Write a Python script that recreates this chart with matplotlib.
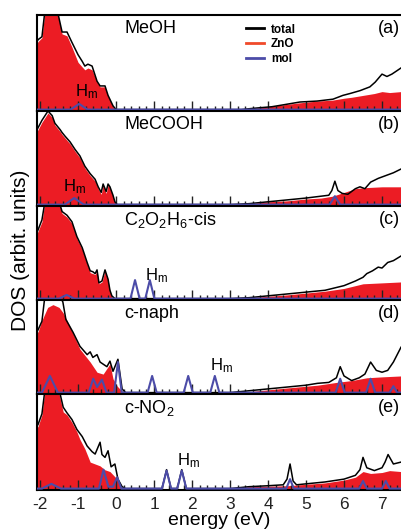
import matplotlib
matplotlib.use("Agg")
import matplotlib.pyplot as plt
from matplotlib.ticker import MultipleLocator

plt.rcParams["font.family"] = ["Liberation Sans", "DejaVu Sans"]
plt.rcParams["mathtext.default"] = "regular"
plt.rcParams["axes.unicode_minus"] = False

RED = "#ec1c24"
BLUE = "#4c4ca8"

# ---- panel (a) MeOH
meoh_e = [-2.08, -2.05, -1.95, -1.87, -1.8, -1.61, -1.53, -1.42, -1.29, -1.16, -1.0, -0.89,
          -0.82, -0.74, -0.63, -0.5, -0.42, -0.29, -0.21, -0.08, 0.0,
          3.0, 3.3, 3.53, 3.8, 4.1, 4.4, 4.84, 5.29, 5.71, 5.97, 6.16, 6.42, 6.68, 6.82,
          7.0, 7.13, 7.26, 7.39, 7.5]
meoh_total = [0.72, 0.74, 0.77, 1.05, 1.1, 1.1, 1.02, 0.82, 0.82, 0.71, 0.58, 0.51,
              0.46, 0.48, 0.46, 0.30, 0.25, 0.25, 0.15, 0.04, 0.0,
              0.0, 0.0, 0.01, 0.02, 0.03, 0.05, 0.08, 0.09, 0.11, 0.15, 0.17, 0.20, 0.24, 0.29,
              0.375, 0.35, 0.375, 0.41, 0.44]
meoh_zno_e = [-2.08, -2.05, -1.95, -1.87, -1.8, -1.61, -1.53, -1.42, -1.29, -1.16, -1.0, -0.89,
              -0.82, -0.74, -0.63, -0.5, -0.42, -0.29, -0.21, -0.08, 0.0,
              3.0, 3.53, 4.0, 4.4, 4.8, 5.3, 5.7, 6.0, 6.2, 6.5, 6.8, 7.0, 7.2, 7.5]
meoh_zno = [0.70, 0.72, 0.76, 1.05, 1.1, 1.1, 1.0, 0.80, 0.78, 0.66, 0.50, 0.45,
            0.42, 0.44, 0.42, 0.29, 0.24, 0.24, 0.14, 0.03, 0.0,
            0.0, 0.01, 0.03, 0.05, 0.07, 0.09, 0.10, 0.12, 0.13, 0.15, 0.17, 0.19, 0.18, 0.19]
meoh_mol_e = [-2.08, -1.2, -0.97, -0.75, 7.5]
meoh_mol = [0.0, 0.0, 0.06, 0.0, 0.0]

# ---- panel (b) MeCOOH
mecooh_e = [-2.08, -1.95, -1.79, -1.68, -1.61, -1.47, -1.42, -1.34, -1.21, -1.08, -0.95, -0.82,
            -0.68, -0.55, -0.47, -0.39, -0.34, -0.26, -0.21, -0.16, -0.08, -0.03, 0.03,
            3.0, 3.5, 4.0, 4.5, 5.0, 5.4, 5.6, 5.68, 5.76, 5.84, 5.95, 6.1, 6.3, 6.42, 6.55,
            6.7, 6.9, 7.1, 7.3, 7.5]
mecooh_total = [0.80, 0.90, 1.0, 0.95, 0.87, 0.80, 0.77, 0.73, 0.67, 0.59, 0.52, 0.41,
                0.33, 0.27, 0.19, 0.13, 0.22, 0.14, 0.22, 0.19, 0.10, 0.03, 0.0,
                0.0, 0.01, 0.03, 0.05, 0.07, 0.09, 0.10, 0.15, 0.25, 0.15, 0.12, 0.11, 0.17, 0.19, 0.17,
                0.24, 0.28, 0.31, 0.34, 0.38]
mecooh_zno_e = [-2.08, -1.95, -1.79, -1.68, -1.61, -1.47, -1.42, -1.34, -1.21, -1.08, -0.95, -0.82,
                -0.68, -0.55, -0.47, -0.39, -0.34, -0.26, -0.21, -0.16, -0.08, -0.03, 0.03,
                3.0, 3.5, 4.0, 4.5, 5.0, 5.4, 5.7, 6.0, 6.3, 6.5, 7.0, 7.5]
mecooh_zno = [0.78, 0.88, 0.98, 0.93, 0.85, 0.78, 0.75, 0.71, 0.65, 0.57, 0.50, 0.39,
              0.31, 0.25, 0.17, 0.11, 0.21, 0.12, 0.21, 0.18, 0.09, 0.02, 0.0,
              0.0, 0.01, 0.03, 0.04, 0.06, 0.07, 0.09, 0.13, 0.17, 0.18, 0.19, 0.19]
mecooh_mol_e = [-2.08, -1.35, -1.1, -0.85, 5.62, 5.76, 5.9, 7.5]
mecooh_mol = [0.0, 0.0, 0.07, 0.0, 0.0, 0.09, 0.0, 0.0]

# ---- panel (c) C2O2H6-cis
cis_e = [-2.08, -2.05, -1.95, -1.87, -1.8, -1.6, -1.5, -1.42, -1.29, -1.16, -1.03, -0.89,
         -0.76, -0.68, -0.61, -0.55, -0.5, -0.45, -0.37, -0.29, -0.21, -0.16, -0.11, -0.03,
         3.0, 3.5, 4.0, 4.5, 5.0, 5.5, 5.7, 6.0, 6.3, 6.5, 6.6, 6.75, 6.9, 7.0, 7.15, 7.3, 7.5]
cis_total = [0.72, 0.745, 0.85, 1.05, 1.1, 1.1, 1.05, 0.94, 0.90, 0.83, 0.67, 0.55,
             0.39, 0.30, 0.29, 0.27, 0.31, 0.17, 0.19, 0.31, 0.21, 0.09, 0.03, 0.0,
             0.0, 0.01, 0.03, 0.05, 0.07, 0.09, 0.11, 0.14, 0.19, 0.23, 0.27, 0.30, 0.34, 0.33, 0.39, 0.41, 0.46]
cis_zno_e = [-2.08, -2.05, -1.95, -1.87, -1.8, -1.6, -1.5, -1.42, -1.29, -1.16, -1.03, -0.89,
             -0.76, -0.68, -0.61, -0.55, -0.5, -0.45, -0.37, -0.29, -0.21, -0.16, -0.11, -0.03,
             3.0, 3.5, 4.5, 5.5, 6.0, 6.5, 7.0, 7.5]
cis_zno = [0.70, 0.73, 0.83, 1.05, 1.1, 1.1, 1.03, 0.92, 0.88, 0.81, 0.65, 0.53,
           0.37, 0.28, 0.27, 0.26, 0.30, 0.16, 0.18, 0.30, 0.20, 0.08, 0.02, 0.0,
           0.0, 0.01, 0.04, 0.08, 0.11, 0.16, 0.17, 0.18]
cis_mol_e = [-2.08, -1.5, -1.3, -1.1, 0.38, 0.5, 0.62, 0.77, 0.89, 1.01, 7.5]
cis_mol = [0.0, 0.0, 0.04, 0.0, 0.0, 0.20, 0.0, 0.0, 0.20, 0.0, 0.0]

# ---- panel (d) c-naph
naph_e = [-2.08, -2.05, -1.95, -1.87, -1.8, -1.6, -1.5, -1.4, -1.32, -1.13, -0.95, -0.76,
          -0.68, -0.61, -0.5, -0.42, -0.24, -0.16, -0.08, 0.05, 0.16, 0.25,
          3.0, 3.5, 4.0, 4.5, 5.0, 5.3, 5.6, 5.8, 5.9, 6.0, 6.2, 6.4, 6.55, 6.7, 6.85, 7.0,
          7.15, 7.3, 7.5]
naph_total = [0.66, 0.68, 0.77, 1.05, 1.1, 1.1, 1.05, 0.98, 0.79, 0.65, 0.50, 0.41,
              0.44, 0.38, 0.41, 0.33, 0.28, 0.34, 0.23, 0.36, 0.04, 0.0,
              0.0, 0.02, 0.04, 0.06, 0.08, 0.10, 0.11, 0.16, 0.28, 0.18, 0.13, 0.16, 0.20, 0.33, 0.24, 0.22,
              0.24, 0.33, 0.49]
naph_zno_e = [-2.08, -2.05, -1.95, -1.8, -1.66, -1.5, -1.39, -1.21, -0.95, -0.68, -0.5, -0.34,
              -0.16, -0.08, 0.03, 0.1, 0.2,
              3.0, 3.5, 4.5, 5.3, 5.8, 6.2, 6.6, 7.0, 7.5]
naph_zno = [0.64, 0.66, 0.78, 0.92, 0.95, 0.92, 0.86, 0.71, 0.47, 0.33, 0.22, 0.20,
            0.31, 0.15, 0.07, 0.04, 0.0,
            0.0, 0.01, 0.05, 0.08, 0.11, 0.13, 0.16, 0.17, 0.18]
naph_mol_e = [-2.08, -1.95, -1.74, -1.53, -0.72, -0.6, -0.5, -0.37, -0.25, -0.05, 0.05, 0.15,
              0.83, 0.95, 1.07, 1.78, 1.9, 2.02, 2.48, 2.6, 2.72, 5.78, 5.9, 6.02,
              6.58, 6.7, 6.82, 7.2, 7.3, 7.4, 7.5]
naph_mol = [0.0, 0.0, 0.18, 0.0, 0.0, 0.15, 0.06, 0.14, 0.0, 0.0, 0.33, 0.0,
            0.0, 0.18, 0.0, 0.0, 0.18, 0.0, 0.0, 0.18, 0.0, 0.0, 0.15, 0.0,
            0.0, 0.15, 0.0, 0.0, 0.07, 0.0, 0.0]

# ---- panel (e) c-NO2
no2_e = [-2.08, -2.05, -1.95, -1.87, -1.8, -1.6, -1.5, -1.39, -1.29, -1.16, -1.03, -0.89,
         -0.76, -0.63, -0.55, -0.42, -0.37, -0.29, -0.21, -0.13, -0.03, 0.05, 0.16, 0.25,
         1.21, 1.33, 1.45, 1.61, 1.73, 1.85,
         3.0, 3.5, 4.0, 4.4, 4.5, 4.58, 4.66, 4.75, 5.0, 5.5, 6.0, 6.3, 6.42, 6.5, 6.6, 6.8,
         7.0, 7.08, 7.16, 7.3, 7.5]
no2_total = [0.66, 0.68, 0.79, 1.05, 1.1, 1.1, 1.05, 0.86, 0.80, 0.73, 0.625, 0.55,
             0.45, 0.39, 0.365, 0.49, 0.36, 0.33, 0.40, 0.23, 0.26, 0.10, 0.02, 0.0,
             0.0, 0.20, 0.0, 0.0, 0.20, 0.0,
             0.0, 0.02, 0.03, 0.04, 0.10, 0.26, 0.08, 0.04, 0.05, 0.07, 0.10, 0.14, 0.20, 0.33, 0.22, 0.19,
             0.22, 0.28, 0.36, 0.26, 0.28]
no2_zno_e = [-2.08, -2.05, -1.95, -1.87, -1.8, -1.6, -1.5, -1.39, -1.29, -1.16, -1.03, -0.95,
             -0.82, -0.68, -0.42, -0.3, -0.16, 0.03, 0.1, 0.2,
             3.0, 3.5, 4.5, 5.5, 6.0, 6.3, 6.5, 6.7, 7.0, 7.2, 7.5]
no2_zno = [0.64, 0.66, 0.78, 1.05, 1.1, 1.1, 1.0, 0.81, 0.78, 0.70, 0.60, 0.52,
           0.42, 0.28, 0.24, 0.20, 0.18, 0.10, 0.03, 0.0,
           0.0, 0.02, 0.03, 0.06, 0.09, 0.12, 0.18, 0.16, 0.17, 0.19, 0.18]
no2_mol_e = [-2.08, -1.95, -1.7, -1.45, -0.45, -0.33, -0.2, -0.08, 0.03, 0.14,
             1.21, 1.33, 1.45, 1.61, 1.73, 1.85, 4.48, 4.58, 4.68,
             6.4, 6.5, 6.6, 7.0, 7.1, 7.2, 7.5]
no2_mol = [0.0, 0.0, 0.05, 0.0, 0.0, 0.20, 0.02, 0.02, 0.12, 0.0,
           0.0, 0.19, 0.0, 0.0, 0.19, 0.0, 0.0, 0.10, 0.0,
           0.0, 0.08, 0.0, 0.0, 0.08, 0.0, 0.0]

panels = [
    ("MeOH", "(a)", (-1.08, 0.20), meoh_e, meoh_total, meoh_zno_e, meoh_zno, meoh_mol_e, meoh_mol),
    ("MeCOOH", "(b)", (-1.39, 0.20), mecooh_e, mecooh_total, mecooh_zno_e, mecooh_zno, mecooh_mol_e, mecooh_mol),
    ("C$_2$O$_2$H$_6$-cis", "(c)", (0.76, 0.26), cis_e, cis_total, cis_zno_e, cis_zno, cis_mol_e, cis_mol),
    ("c-naph", "(d)", (2.47, 0.30), naph_e, naph_total, naph_zno_e, naph_zno, naph_mol_e, naph_mol),
    ("c-NO$_2$", "(e)", (1.6, 0.31), no2_e, no2_total, no2_zno_e, no2_zno, no2_mol_e, no2_mol),
]

W, H = 401, 531
edges = [15, 111, 206, 300, 394, 490]   # panel borders in pixels
fig = plt.figure(figsize=(W / 100, H / 100), dpi=100)
x0 = 37 / W

for k, (name, tag, hm, e, tot, ze, zno, me, mol) in enumerate(panels):
    top, bot = edges[k], edges[k + 1]
    ax = fig.add_axes([x0, 1 - bot / H, 1 - x0, (bot - top) / H])
    ax.fill_between(ze, 0, zno, color=RED, lw=0, zorder=1)
    ax.plot(e, tot, color="black", lw=1.1, zorder=2)
    ax.plot(me, mol, color=BLUE, lw=1.5, zorder=3)
    ax.set_xlim(-2.08, 7.5)
    ax.set_ylim(-0.015, 1.0)
    ax.set_yticks([])
    ax.xaxis.set_major_locator(MultipleLocator(1))
    ax.xaxis.set_minor_locator(MultipleLocator(0.2))
    ax.tick_params(axis="x", which="both", direction="in", top=False, width=1, colors="#222222")
    ax.tick_params(axis="x", which="major", length=7, labelsize=12.5, pad=5)
    ax.tick_params(axis="x", which="minor", length=3.5)
    ax.spines["right"].set_visible(False)
    for s in ("left", "top", "bottom"):
        ax.spines[s].set_linewidth(1.5)
    if k < 4:
        ax.tick_params(axis="x", labelbottom=False)
    tr = ax.get_xaxis_transform()
    ax.text(0.22, 0.855, name, transform=tr, fontsize=13, va="center", ha="left")
    ax.text(7.48, 0.86, tag, transform=tr, fontsize=13, va="center", ha="right")
    ax.text(hm[0], hm[1], "H$_m$", transform=tr, fontsize=12, va="center", ha="left")
    if k == 0:
        h1, = ax.plot([], [], color="black", lw=2)
        h2, = ax.plot([], [], color="#f04a2a", lw=2)
        h3, = ax.plot([], [], color=BLUE, lw=2)
        ax.legend([h1, h2, h3], ["total", "ZnO", "mol"], loc="upper left",
                  bbox_to_anchor=(0.555, 0.985), frameon=False,
                  prop={"weight": "bold", "size": 8.5}, handlelength=1.5,
                  handletextpad=0.6, labelspacing=0.25, borderpad=0.1)
    if k == 4:
        ax.set_xlabel("energy (eV)", fontsize=14, labelpad=0)

fig.text(21 / W, 1 - 250 / H, "DOS (arbit. units)", rotation=90, fontsize=15,
         ha="center", va="center")
fig.savefig("out.png", dpi=100)
